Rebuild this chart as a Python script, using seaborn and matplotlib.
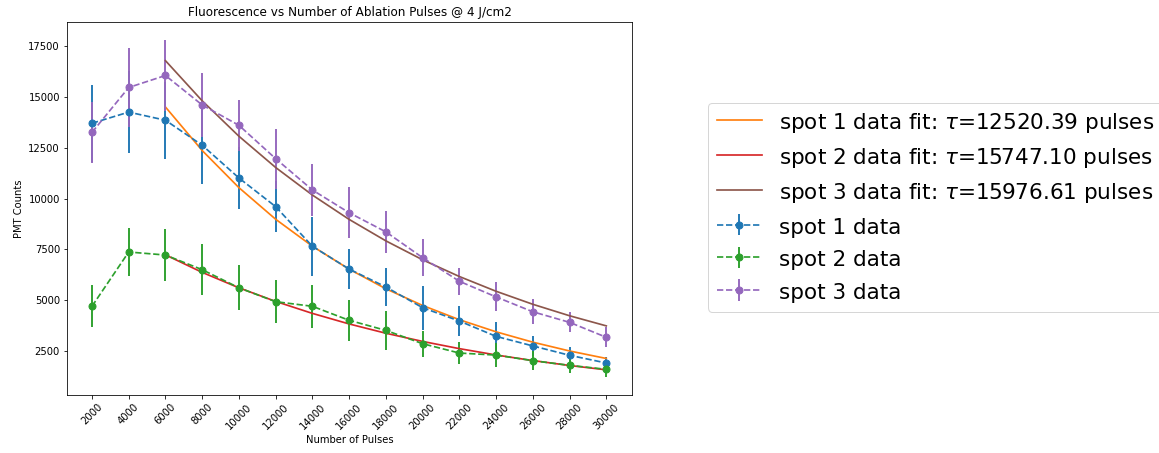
import numpy as np
import pandas as pd
import matplotlib
matplotlib.use("Agg")
import matplotlib.pyplot as plt
import seaborn as sns

pulses = [2000, 4000, 6000, 8000, 10000, 12000, 14000, 16000,
          18000, 20000, 22000, 24000, 26000, 28000, 30000]

spot1 = [13700, 14250, 13850, 12620, 11010, 9600, 7650, 6530,
         5650, 4630, 3975, 3220, 2750, 2290, 1910]
spot1_err = [1900, 2000, 1900, 1900, 1540, 1260, 1460, 1000,
             940, 1080, 750, 730, 500, 430, 300]

spot2 = [4700, 7370, 7220, 6500, 5610, 4925, 4700, 4010,
         3515, 2860, 2400, 2300, 2025, 1795, 1600]
spot2_err = [1025, 1200, 1290, 1240, 1100, 1060, 1060, 1020,
             950, 640, 560, 600, 480, 400, 370]

spot3 = [13250, 15460, 16050, 14600, 13600, 11960, 10420, 9300,
         8360, 7090, 5930, 5160, 4430, 3910, 3175]
spot3_err = [1500, 1920, 1770, 1580, 1250, 1480, 1280, 1250,
             1020, 920, 670, 710, 610, 490, 500]

fit_pulses = [6000, 8000, 10000, 12000, 14000, 16000, 18000,
              20000, 22000, 24000, 26000, 28000, 30000]
fit1 = [14500, 12360, 10535, 8980, 7654, 6524, 5561, 4740, 4040,
        3444, 2935, 2502, 2133]
fit2 = [7230, 6368, 5608, 4939, 4350, 3831, 3374, 2972, 2617, 2305,
        2030, 1788, 1575]
fit3 = [16780, 14805, 13063, 11526, 10170, 8973, 7917, 6986, 6164,
        5438, 4798, 4234, 3736]

fit_labels = [r"spot 1 data fit: $\tau$=12520.39 pulses",
              r"spot 2 data fit: $\tau$=15747.10 pulses",
              r"spot 3 data fit: $\tau$=15976.61 pulses"]
data_labels = ["spot 1 data", "spot 2 data", "spot 3 data"]

pal = sns.color_palette("tab10")

fig = plt.figure(figsize=(1159 / 72, 453 / 72), dpi=72)
ax = fig.add_axes([0.0578, 0.128, 0.4875, 0.8234])

series = [(spot1, spot1_err, fit1, pal[0], pal[1]),
          (spot2, spot2_err, fit2, pal[2], pal[3]),
          (spot3, spot3_err, fit3, pal[4], pal[5])]

for i, (y, e, f, cdata, cfit) in enumerate(series):
    ax.errorbar(pulses, y, yerr=e, fmt="o--", color=cdata,
                label=data_labels[i], markersize=7, linewidth=1.7,
                elinewidth=1.9)
    df = pd.DataFrame({"x": fit_pulses, "y": f})
    sns.lineplot(data=df, x="x", y="y", ax=ax, color=cfit,
                 label=fit_labels[i], linewidth=1.7)

ax.set_xticks(pulses)
ax.set_xticklabels([str(p) for p in pulses], rotation=45)
ax.set_yticks([2500, 5000, 7500, 10000, 12500, 15000, 17500])
ax.set_ylim(336, 18680)
ax.set_xlim(640, 31400)
ax.set_xlabel("Number of Pulses")
ax.set_ylabel("PMT Counts")
ax.set_title("Fluorescence vs Number of Ablation Pulses @ 4 J/cm2")

handles, labels = ax.get_legend_handles_labels()
order = [labels.index(l) for l in fit_labels + data_labels]
ax.legend([handles[k] for k in order], [labels[k] for k in order],
          loc="upper left", bbox_to_anchor=(0.611, 0.773),
          bbox_transform=fig.transFigure, fontsize=21.5,
          borderaxespad=0, handlelength=2.1, handleheight=1.15)

fig.savefig("out.png", dpi=72)
